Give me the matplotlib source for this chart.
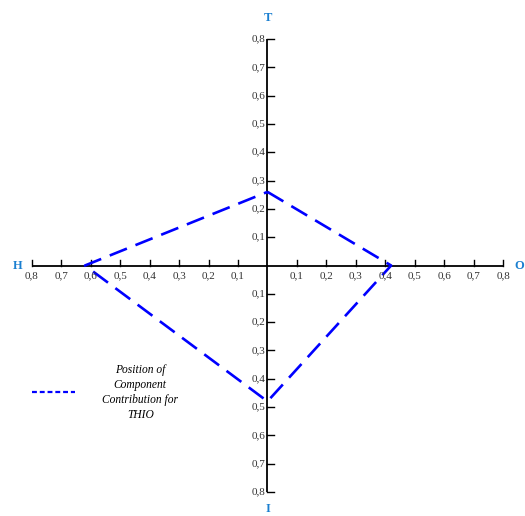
import matplotlib.pyplot as plt

# Axis directions and component contribution values (THIO)
axes_names = ['T', 'O', 'I', 'H']
values = [0.26, 0.42, 0.48, 0.62]
tick_values = [0.1, 0.2, 0.3, 0.4, 0.5, 0.6, 0.7, 0.8]
tick_labels = ['0,1', '0,2', '0,3', '0,4', '0,5', '0,6', '0,7', '0,8']

# direction unit vectors for each axis: T up, O right, I down, H left
directions = {'T': (0, 1), 'O': (1, 0), 'I': (0, -1), 'H': (-1, 0)}

fig = plt.figure(figsize=(5.25, 5.16), dpi=100)
ax = fig.add_axes([0, 0, 1, 1])
# horizontal scale slightly wider than vertical (as in the original)
ax.set_xlim(-0.9086, 0.8747)
ax.set_ylim(-0.885, 0.938)
ax.axis('off')

serif = 'Liberation Serif'
lab_color = '#333333'
axis_color = '#1a7fd0'

# main axes
ax.plot([-0.8, 0.8], [0, 0], color='black', lw=1.3, solid_capstyle='butt')
ax.plot([0, 0], [-0.8, 0.8], color='black', lw=1.3, solid_capstyle='butt')

# tick sizes in data units
hx = 7 / 294.4
hy = 5 / 283.0
for v, lab in zip(tick_values, tick_labels):
    for s in (-1, 1):
        # horizontal axis ticks (upward), labels below
        ax.plot([s * v, s * v], [0, hy], color='black', lw=1.0)
        ax.text(s * v, -0.02, lab, ha='center', va='top', fontsize=8,
                family=serif, color=lab_color)
        # vertical axis ticks (rightward), labels on the left
        ax.plot([0, hx], [s * v, s * v], color='black', lw=1.0)
        ax.text(-0.006, s * v, lab, ha='right', va='center', fontsize=8,
                family=serif, color=lab_color)

# axis letters
ax.text(0, 0.875, 'T', ha='center', va='center', fontsize=9, fontweight='bold',
        family=serif, color=axis_color)
ax.text(0, -0.86, 'I', ha='center', va='center', fontsize=9, fontweight='bold',
        family=serif, color=axis_color)
ax.text(-0.85, 0, 'H', ha='center', va='center', fontsize=9, fontweight='bold',
        family=serif, color=axis_color)
ax.text(0.855, 0, 'O', ha='center', va='center', fontsize=9, fontweight='bold',
        family=serif, color=axis_color)

# polygon of component contributions
xs = [directions[n][0] * v for n, v in zip(axes_names, values)]
ys = [directions[n][1] * v for n, v in zip(axes_names, values)]
xs.append(xs[0])
ys.append(ys[0])
ax.plot(xs, ys, color='#0000ff', lw=1.9, dashes=(7, 3.5))

# legend
ax.plot([-0.8, -0.655], [-0.448, -0.448], color='#0000ff', lw=1.6, dashes=(2.2, 1.3))
ax.text(-0.432, -0.448, 'Position of\nComponent\nContribution for\nTHIO', ha='center',
        va='center', fontsize=8.3, style='italic', family=serif, linespacing=1.35)

plt.savefig('out.png', dpi=100)
